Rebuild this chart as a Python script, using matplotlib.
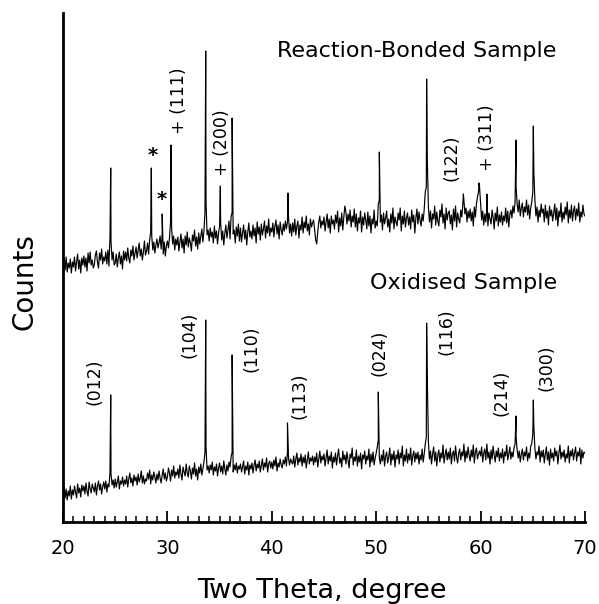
import numpy as np
import matplotlib
matplotlib.use("Agg")
import matplotlib.pyplot as plt
from matplotlib.ticker import MultipleLocator

# ---------------- data ----------------
# background trace sampled every 0.1 degree from 20 to 70 (two-theta); one row = 1 degree
grid_start, grid_stop = 20.0, 70.0

rb_background = [
    256, 262, 252, 265, 250, 259, 254, 263, 249, 260,
    255, 265, 251, 260, 268, 253, 262, 249, 264, 257,
    266, 255, 264, 251, 269, 259, 270, 257, 262, 254,
    257, 267, 271, 260, 254, 269, 262, 273, 258, 265,
    261, 270, 258, 272, 256, 285, 280, 262, 270, 257,
    259, 268, 255, 264, 270, 258, 266, 253, 271, 262,
    270, 261, 274, 264, 259, 272, 266, 276, 262, 269,
    275, 264, 272, 279, 266, 273, 262, 270, 281, 267,
    271, 279, 268, 282, 290, 286, 272, 280, 269, 277,
    283, 274, 279, 286, 273, 288, 268, 280, 266, 276,
    281, 274, 284, 300, 295, 278, 286, 272, 283, 277,
    285, 271, 280, 288, 274, 283, 269, 286, 277, 290,
    275, 284, 279, 271, 287, 281, 292, 276, 285, 273,
    289, 278, 286, 293, 280, 291, 310, 320, 287, 292,
    281, 294, 285, 290, 279, 296, 284, 291, 278, 289,
    296, 300, 282, 291, 277, 289, 297, 284, 292, 301,
    283, 305, 310, 288, 292, 279, 295, 286, 298, 281,
    294, 280, 289, 297, 283, 292, 277, 290, 299, 285,
    291, 283, 297, 286, 294, 279, 300, 288, 295, 282,
    298, 287, 293, 301, 284, 296, 289, 303, 286, 294,
    290, 299, 285, 296, 302, 288, 297, 283, 300, 292,
    287, 298, 291, 301, 293, 300, 305, 289, 298, 286,
    299, 290, 303, 287, 296, 301, 284, 297, 292, 305,
    289, 300, 294, 306, 291, 298, 287, 303, 295, 299,
    302, 293, 282, 278, 290, 300, 306, 294, 301, 297,
    305, 291, 300, 308, 294, 303, 289, 306, 298, 302,
    293, 307, 299, 311, 290, 304, 296, 309, 292, 305,
    316, 310, 298, 308, 301, 312, 295, 306, 300, 313,
    295, 308, 291, 304, 299, 311, 290, 305, 297, 309,
    302, 293, 310, 296, 306, 289, 303, 298, 312, 294,
    301, 296, 318, 322, 300, 307, 292, 309, 298, 304,
    311, 295, 303, 290, 308, 299, 314, 293, 305, 300,
    296, 309, 302, 314, 291, 306, 298, 311, 295, 304,
    309, 297, 305, 293, 312, 300, 307, 289, 304, 313,
    298, 310, 302, 296, 308, 301, 313, 330, 335, 360,
    315, 300, 311, 294, 308, 303, 316, 297, 310, 301,
    296, 312, 305, 318, 299, 308, 293, 314, 302, 309,
    311, 298, 307, 292, 313, 301, 316, 295, 309, 303,
    299, 312, 305, 318, 322, 308, 314, 300, 311, 304,
    313, 301, 310, 296, 315, 305, 318, 325, 330, 335,
    318, 302, 311, 297, 308, 300, 314, 296, 309, 303,
    298, 312, 305, 293, 309, 301, 315, 296, 307, 300,
    310, 297, 306, 301, 314, 299, 311, 295, 308, 312,
    304, 316, 309, 320, 335, 318, 310, 322, 306, 314,
    319, 305, 315, 310, 322, 307, 317, 303, 314, 320,
    330, 350, 322, 306, 315, 300, 312, 305, 318, 309,
    313, 300, 317, 304, 311, 297, 316, 306, 312, 301,
    309, 318, 302, 314, 296, 311, 305, 319, 300, 310,
    303, 315, 307, 320, 299, 312, 304, 317, 301, 311,
    316, 302, 313, 306, 319, 300, 310, 305, 317, 308,
    306,
]

ox_background = [
    28, 35, 24, 33, 22, 31, 26, 36, 23, 32,
    27, 36, 30, 24, 38, 29, 34, 25, 37, 31,
    36, 28, 39, 31, 26, 40, 33, 29, 38, 34,
    30, 39, 27, 36, 41, 32, 38, 28, 35, 40,
    33, 41, 30, 38, 35, 50, 48, 37, 42, 34,
    43, 35, 40, 46, 33, 41, 38, 45, 36, 42,
    38, 46, 35, 43, 49, 39, 44, 36, 47, 41,
    45, 37, 48, 40, 44, 51, 39, 46, 38, 43,
    41, 49, 43, 52, 38, 47, 42, 50, 45, 39,
    48, 42, 51, 44, 39, 47, 53, 43, 49, 41,
    45, 54, 49, 41, 52, 46, 56, 44, 50, 47,
    53, 44, 57, 48, 42, 55, 50, 46, 58, 49,
    45, 56, 51, 43, 54, 48, 59, 46, 53, 42,
    55, 49, 58, 47, 53, 60, 70, 75, 52, 56,
    49, 57, 52, 60, 47, 55, 51, 58, 46, 54,
    59, 50, 56, 48, 61, 53, 47, 57, 51, 60,
    55, 65, 70, 50, 57, 52, 59, 49, 56, 53,
    58, 50, 55, 61, 48, 56, 52, 60, 47, 57,
    53, 59, 49, 57, 62, 51, 58, 54, 61, 50,
    57, 63, 52, 59, 55, 64, 50, 58, 61, 54,
    60, 53, 62, 56, 65, 51, 59, 55, 63, 57,
    54, 62, 58, 65, 56, 70, 64, 57, 63, 60,
    58, 66, 55, 63, 69, 57, 64, 60, 68, 56,
    65, 59, 67, 54, 62, 70, 58, 64, 61, 66,
    57, 65, 60, 69, 55, 63, 71, 59, 66, 62,
    68, 56, 64, 72, 58, 66, 61, 70, 54, 65,
    60, 69, 57, 66, 73, 59, 64, 55, 71, 62,
    67, 58, 70, 62, 54, 68, 64, 74, 57, 65,
    61, 72, 56, 66, 60, 69, 53, 67, 63, 71,
    58, 66, 62, 73, 55, 68, 60, 70, 57, 64,
    69, 75, 82, 64, 58, 67, 61, 72, 56, 66,
    70, 59, 65, 74, 57, 68, 62, 71, 55, 67,
    63, 72, 58, 69, 64, 76, 56, 67, 61, 73,
    59, 68, 62, 74, 57, 66, 71, 60, 69, 63,
    70, 58, 67, 62, 73, 60, 68, 78, 85, 140,
    80, 63, 71, 58, 68, 75, 61, 70, 56, 67,
    72, 60, 69, 64, 77, 59, 67, 73, 62, 70,
    63, 74, 58, 68, 71, 61, 76, 65, 59, 69,
    73, 62, 70, 66, 78, 60, 71, 64, 75, 67,
    61, 72, 65, 77, 59, 70, 74, 63, 68, 71,
    66, 75, 60, 69, 73, 62, 78, 64, 70, 58,
    72, 63, 76, 67, 60, 71, 65, 74, 61, 69,
    64, 73, 59, 70, 66, 77, 62, 68, 75, 63,
    70, 65, 74, 78, 85, 72, 64, 71, 60, 68,
    73, 62, 70, 66, 75, 61, 69, 64, 76, 78,
    88, 95, 74, 63, 70, 67, 76, 60, 71, 65,
    72, 59, 68, 75, 62, 70, 57, 73, 64, 69,
    61, 74, 66, 71, 58, 69, 77, 63, 70, 65,
    72, 60, 68, 64, 76, 59, 71, 66, 73, 62,
    69, 75, 61, 70, 66, 74, 58, 72, 64, 70,
    69,
]

# diffraction peaks: position (two-theta) and apex counts
rb_peak_pos = [24.57, 28.46, 29.50, 30.35, 33.67, 35.07, 36.20, 41.55,
               50.30, 54.83, 58.35, 59.85, 60.60, 63.40, 65.05]
rb_peak_top = [354, 354, 308, 377, 471, 336, 404, 329,
               370, 443, 328, 339, 328, 382, 396]

ox_peak_pos = [24.57, 33.67, 36.20, 41.50, 50.20, 54.83, 63.40, 65.05]
ox_peak_top = [127, 202, 167, 99, 130, 199, 106, 122]

# annotations: text, two-theta, counts
ox_labels = ["(012)", "(104)", "(110)", "(113)", "(024)", "(116)", "(214)", "(300)"]
ox_label_x = [22.97, 32.16, 38.10, 42.70, 50.36, 56.78, 62.00, 66.36]
ox_label_y = [140, 187, 173, 126, 169, 190, 129, 154]

rb_labels = ["+ (111)", "+ (200)", "(122)", "+ (311)"]
rb_label_x = [31.10, 35.20, 57.20, 60.60]
rb_label_y = [421, 379, 364, 384]

star_x = [28.60, 29.45]
star_y = [367, 323]

title_rb = "Reaction-Bonded Sample"
title_ox = "Oxidised Sample"
x_ticks = [20, 30, 40, 50, 60, 70]


def build_trace(bg, pk_pos, pk_top):
    gx = np.linspace(grid_start, grid_stop, len(bg))
    x = np.concatenate([gx, np.asarray(pk_pos, float)])
    y = np.concatenate([np.asarray(bg, float), np.asarray(pk_top, float)])
    order = np.argsort(x, kind="stable")
    return x[order], y[order]


plt.rcParams["font.family"] = ["DejaVu Sans"]

W, H = 599, 604
fig = plt.figure(figsize=(W / 100, H / 100), dpi=100)
ax_l, ax_r, ax_b, ax_t = 63, 585, 522, 13
ax = fig.add_axes([ax_l / W, 1 - ax_b / H, (ax_r - ax_l) / W, (ax_b - ax_t) / H])

xr, yr = build_trace(rb_background, rb_peak_pos, rb_peak_top)
xo, yo = build_trace(ox_background, ox_peak_pos, ox_peak_top)
ax.plot(xr, yr, color="black", lw=0.85)
ax.plot(xo, yo, color="black", lw=0.85)

ax.set_xlim(20, 70)
ax.set_ylim(0, 509)
ax.spines["top"].set_visible(False)
ax.spines["right"].set_visible(False)
ax.spines["left"].set_linewidth(2.0)
ax.spines["bottom"].set_linewidth(2.0)
ax.set_yticks([])
ax.set_xticks(x_ticks)
ax.xaxis.set_minor_locator(MultipleLocator(1))
ax.tick_params(axis="x", which="major", direction="in", length=8, width=1.3,
               labelsize=14, pad=12)
ax.tick_params(axis="x", which="minor", direction="in", length=4.5, width=1.1)

for t, x, y in zip(ox_labels, ox_label_x, ox_label_y):
    ax.text(x, y, t, rotation=90, ha="center", va="center", fontsize=12.5)
for t, x, y in zip(rb_labels, rb_label_x, rb_label_y):
    ax.text(x, y, t, rotation=90, ha="center", va="center", fontsize=12.5)
for x, y in zip(star_x, star_y):
    ax.text(x, y, "*", ha="center", va="center", fontsize=14, fontweight="bold")

ax.text(53.9, 471, title_rb, ha="center", va="center", fontsize=16)
ax.text(58.4, 239, title_ox, ha="center", va="center", fontsize=16)

fig.text(24 / W, 1 - 282 / H, "Counts", rotation=90, ha="center", va="center", fontsize=20)
fig.text(322 / W, 1 - 598 / H, "Two Theta, degree", ha="center", va="baseline", fontsize=19.5)

fig.savefig("out.png", dpi=100)
